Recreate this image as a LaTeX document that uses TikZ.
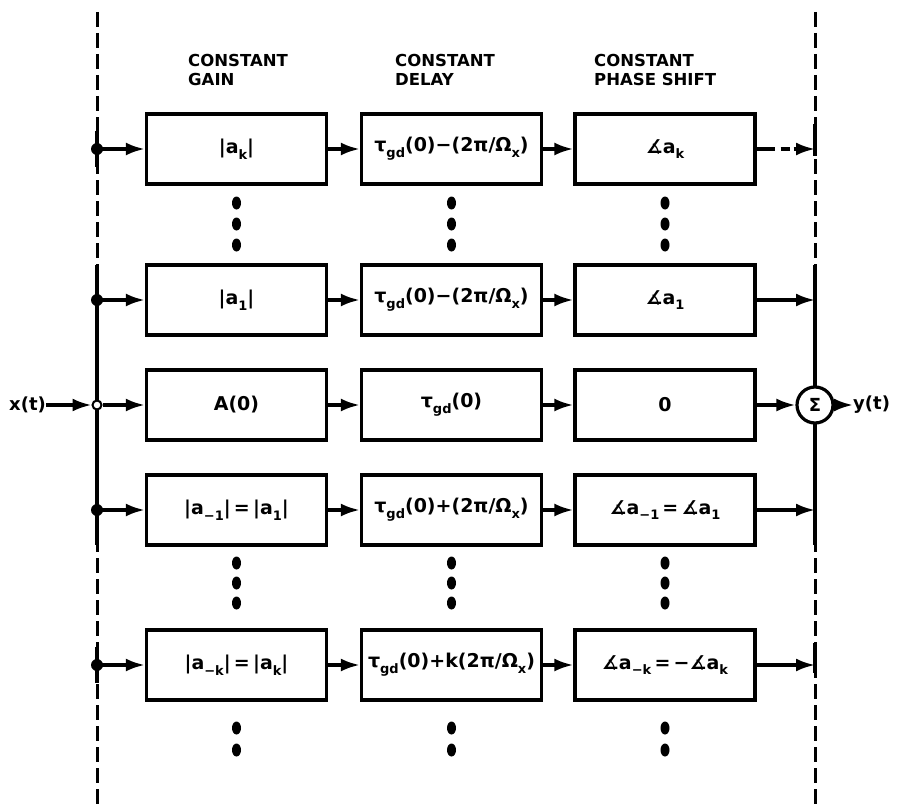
\documentclass[tikz,border=0pt]{standalone}
\usepackage{fontspec}
\setmainfont{DejaVu Sans}
\usetikzlibrary{arrows.meta,shapes.geometric}
\newcommand{\lo}[1]{\raisebox{-0.55ex}{\fontsize{13}{13}\selectfont #1}}
\newcommand{\ang}{∡}
\begin{document}
\begin{tikzpicture}[x=1pt,y=-1pt,
  box/.style={draw, line width=3.4pt, minimum width=180pt, minimum height=70pt, inner sep=0pt,
    font=\fontsize{19}{21}\selectfont\bfseries},
  hdr/.style={align=left, anchor=north west, inner sep=0pt, font=\fontsize{16.5}{19}\selectfont\bfseries},
  wire/.style={line width=3.2pt},
  flow/.style={line width=3.2pt, -{Latex[length=19pt,width=13pt]}},
  brokenflow/.style={flow, dash pattern=on 18pt off 6pt on 9pt off 4pt},
  bus/.style={line width=3pt, dash pattern=on 15pt off 6pt},
  jdot/.style={circle, fill, inner sep=0pt, minimum size=12pt},
  ojunc/.style={circle, draw, fill=white, line width=2pt, inner sep=0pt, minimum size=9pt},
  vdot/.style={ellipse, fill, inner sep=0pt, minimum width=9pt, minimum height=13pt},
  sig/.style={circle, draw, fill=white, line width=3.2pt, inner sep=0pt, minimum size=36pt,
    font=\fontsize{18}{18}\selectfont\bfseries},
  io/.style={inner sep=0pt, font=\fontsize{18}{18}\selectfont\bfseries}]
\useasboundingbox (0,0) rectangle (900,808);

% bus coordinates
\coordinate (Ltop) at (97,12);
\coordinate (Lbot) at (97,808);
\coordinate (Rtop) at (815,12);
\coordinate (Rbot) at (815,808);
\coordinate (Lsa) at (97,265);
\coordinate (Lsb) at (97,545);
\coordinate (Rsa) at (815,265);
\coordinate (Rsb) at (815,545);
\coordinate (L1a) at (97,131);
\coordinate (L1b) at (97,167);
\coordinate (L5a) at (97,647);
\coordinate (L5b) at (97,683);
\coordinate (R1a) at (815,124);
\coordinate (R1b) at (815,156);
\coordinate (R5a) at (815,643);
\coordinate (R5b) at (815,673);
\foreach \r/\y in {1/149,2/300,3/405,4/510,5/665}{
  \coordinate (L\r) at (97,\y);
  \coordinate (R\r) at (815,\y);
}

% dashed and solid buses
\draw[bus] (Ltop) -- (Lbot);
\draw[bus] (Rtop) -- (Rbot);
\draw[wire] (Lsa) -- (Lsb);
\draw[wire] (Rsa) -- (Rsb);
\draw[wire] (L1a) -- (L1b);
\draw[wire] (L5a) -- (L5b);
\draw[wire] (R1a) -- (R1b);
\draw[wire] (R5a) -- (R5b);

% headers
\node[hdr] (h1) at (188,54) {CONSTANT\\GAIN};
\node[hdr] (h2) at (395,54) {CONSTANT\\DELAY};
\node[hdr] (h3) at (594,54) {CONSTANT\\PHASE SHIFT};

% boxes
\node[box] (g1) at (236.5,149) {|a\lo{k}|};
\node[box] (d1) at (451.5,149) {τ\lo{gd}(0)−(2π/Ω\lo{x})};
\node[box] (p1) at (665,149) {\ang a\lo{k}};

\node[box] (g2) at (236.5,300) {|a\lo{1}|};
\node[box] (d2) at (451.5,300) {τ\lo{gd}(0)−(2π/Ω\lo{x})};
\node[box] (p2) at (665,300) {\ang a\lo{1}};

\node[box] (g3) at (236.5,405) {A(0)};
\node[box] (d3) at (451.5,405) {τ\lo{gd}(0)};
\node[box] (p3) at (665,405) {0};

\node[box] (g4) at (236.5,510) {|a\lo{−1}|\,=\,|a\lo{1}|};
\node[box] (d4) at (451.5,510) {τ\lo{gd}(0)+(2π/Ω\lo{x})};
\node[box] (p4) at (665,510) {\ang a\lo{−1}\,=\,\ang a\lo{1}};

\node[box] (g5) at (236.5,665) {|a\lo{−k}|\,=\,|a\lo{k}|};
\node[box] (d5) at (451.5,665) {τ\lo{gd}(0)+k(2π/Ω\lo{x})};
\node[box] (p5) at (665,665) {\ang a\lo{−k}\,=\,−\ang a\lo{k}};

% junctions
\node[jdot] (j1) at (L1) {};
\node[jdot] (j2) at (L2) {};
\node[ojunc] (j3) at (L3) {};
\node[jdot] (j4) at (L4) {};
\node[jdot] (j5) at (L5) {};

% sum and io
\node[sig] (sum) at (R3) {Σ};
\node[io, anchor=west] (xt) at (9,405) {x(t)};
\node[io, anchor=west] (yt) at (853,405) {y(t)};

% connectors
\foreach \r in {1,2,4,5}{
  \draw[flow] (L\r) -- (g\r);
}
\draw[flow] (xt) -- (j3);
\draw[flow] (j3) -- (g3);
\foreach \r in {1,2,3,4,5}{
  \draw[flow] (g\r) -- (d\r);
  \draw[flow] (d\r) -- (p\r);
}
\draw[brokenflow] (p1) -- (R1);
\draw[flow] (p2) -- (R2);
\draw[flow] (p3) -- (sum);
\draw[flow] (p4) -- (R4);
\draw[flow] (p5) -- (R5);
\draw[flow] (sum) -- (yt);

% vertical dots
\foreach \cx/\c in {236.5/a,451.5/b,665/c}{
  \foreach \cy/\k in {203/1,224/2,245/3,563/4,583/5,603/6,728/7,750/8}{
    \node[vdot] (v\c\k) at (\cx,\cy) {};
  }
}
\end{tikzpicture}
\end{document}
